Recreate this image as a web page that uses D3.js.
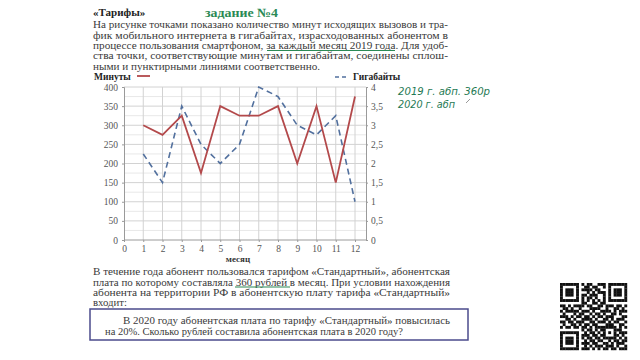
<!DOCTYPE html>
<html><head><meta charset="utf-8">
<script src="https://cdn.jsdelivr.net/npm/d3@7"></script>
<style>
html,body{margin:0;padding:0;background:#fff;}
svg{display:block;}
</style></head>
<body>
<svg id="c" width="640" height="360"></svg>
<script>
// ---- data ----
const months = [1,2,3,4,5,6,7,8,9,10,11,12];
const minutes = [300,275,325,175,350,325,325,350,200,350,150,375];
const gigabytes = [2.25,1.5,3.5,2.5,2,2.5,4,3.75,3,2.75,3.25,1];
const xTicks = [0,1,2,3,4,5,6,7,8,9,10,11,12];
const leftTicks = [0,50,100,150,200,250,300,350,400];
const rightTicks = [0,0.5,1,1.5,2,2.5,3,3.5,4];

const svg = d3.select("#c");
const serif = "'Liberation Serif','DejaVu Serif',serif";
const txtCol = "#3a3a3a";
const green = "#2b8a55";

// ---- text blocks ----
svg.append("text").attr("x",93).attr("y",16).attr("font-family",serif).attr("font-weight","bold")
  .attr("font-size",11).attr("fill","#222").text("«Тарифы»");
svg.append("text").attr("x",205).attr("y",16.5).attr("font-family",serif).attr("font-weight","bold")
  .attr("font-size",12.5).attr("fill",green).attr("textLength",73).attr("lengthAdjust","spacingAndGlyphs").text("задание №4");

function para(lines){
  lines.forEach(l=>{
    const t = svg.append("text").attr("x",l.x).attr("y",l.y)
      .attr("font-family",serif).attr("font-size",10.2).attr("fill",txtCol).text(l.s);
    if(l.w) t.attr("textLength",l.w).attr("lengthAdjust","spacingAndGlyphs");
  });
}
para([
  {s:"На рисунке точками показано количество минут исходящих вызовов и тра-",x:93,y:28,w:355},
  {s:"фик мобильного интернета в гигабайтах, израсходованных абонентом в",x:93,y:38.5,w:355},
  {s:"процессе пользования смартфоном, за каждый месяц 2019 года. Для удоб-",x:93,y:48.5,w:355},
  {s:"ства точки, соответствующие минутам и гигабайтам, соединены сплош-",x:93,y:59,w:355},
  {s:"ными и пунктирными линиями соответственно.",x:93,y:69.5,w:227}
]);
svg.append("line").attr("x1",267).attr("x2",395).attr("y1",50.5).attr("y2",50.5).attr("stroke",green).attr("stroke-width",1.2);

para([
  {s:"В течение года абонент пользовался тарифом «Стандартный», абонентская",x:93,y:274.5,w:357},
  {s:"плата по которому составляла 360 рублей в месяц. При условии нахождения",x:93,y:285.5,w:357},
  {s:"абонента на территории РФ в абонентскую плату тарифа «Стандартный»",x:93,y:296,w:357},
  {s:"входит:",x:93,y:306,w:34}
]);
svg.append("line").attr("x1",235).attr("x2",290).attr("y1",287).attr("y2",287).attr("stroke",green).attr("stroke-width",1.2);

svg.append("rect").attr("x",90).attr("y",309).attr("width",378).attr("height",31)
  .attr("fill","#fff").attr("stroke","#4b4b8c").attr("stroke-width",1.5);
para([
  {s:"В 2020 году абонентская плата по тарифу «Стандартный» повысилась",x:123,y:323.5,w:327},
  {s:"на 20%. Сколько рублей составила абонентская плата в 2020 году?",x:105,y:334.5,w:298}
]);

// handwritten notes
const hand = "'DejaVu Sans','Noto Sans',sans-serif";
svg.append("text").attr("x",398).attr("y",94.5).attr("font-family",hand).attr("font-style","italic")
  .attr("font-size",11).attr("fill","#1f7a55").attr("textLength",92).attr("lengthAdjust","spacingAndGlyphs").text("2019 г. абп. 360р");
svg.append("text").attr("x",398).attr("y",107.5).attr("font-family",hand).attr("font-style","italic")
  .attr("font-size",11).attr("fill","#1f7a55").attr("textLength",57).attr("lengthAdjust","spacingAndGlyphs").text("2020 г. абп");
svg.append("line").attr("x1",466).attr("y1",103).attr("x2",470).attr("y2",99).attr("stroke","#999").attr("stroke-width",1);

// ---- chart ----
const x = d3.scaleLinear().domain([0,12]).range([124,355]);
const y = d3.scaleLinear().domain([0,400]).range([240,87]);
const y2 = d3.scaleLinear().domain([0,4]).range([240,87]);
const rightX = 366;

const g = svg.append("g");
d3.range(25,400,50).forEach(v=>{
  g.append("line").attr("x1",x(0)).attr("x2",rightX).attr("y1",y(v)).attr("y2",y(v))
   .attr("stroke","#e8e8e8").attr("stroke-width",1);
});
g.selectAll(".hg").data(leftTicks.slice(1)).join("line")
  .attr("x1",x(0)).attr("x2",rightX).attr("y1",d=>y(d)).attr("y2",d=>y(d))
  .attr("stroke","#d2d2d2").attr("stroke-width",1);
g.selectAll(".vg").data(xTicks.slice(1)).join("line")
  .attr("x1",d=>x(d)).attr("x2",d=>x(d)).attr("y1",y(400)).attr("y2",y(0))
  .attr("stroke","#d2d2d2").attr("stroke-width",1);

const axCol="#9a9a9a";
const yAxis = svg.append("g").attr("transform",`translate(${x(0)},0)`)
  .call(d3.axisLeft(y).tickValues(leftTicks).tickSize(2).tickPadding(4));
const y2Axis = svg.append("g").attr("transform",`translate(${rightX},0)`)
  .call(d3.axisRight(y2).tickValues(rightTicks).tickSize(2).tickPadding(3)
    .tickFormat(d=>String(d).replace(".",",")));
const xAxis = svg.append("g").attr("transform",`translate(0,${y(0)})`)
  .call(d3.axisBottom(x).tickValues(xTicks).tickSize(2).tickPadding(3));
xAxis.select(".domain").attr("d",`M${x(0)},0H${rightX}`);
[yAxis,y2Axis,xAxis].forEach(a=>{
  a.select(".domain").attr("stroke",axCol);
  a.selectAll(".tick line").attr("stroke",axCol);
  a.selectAll("text").attr("font-family",serif).attr("font-size",9.5).attr("fill","#555");
});

const lineMin = d3.line().x((d,i)=>x(months[i])).y(d=>y(d));
const lineGb = d3.line().x((d,i)=>x(months[i])).y(d=>y2(d));
svg.append("path").attr("d",lineGb(gigabytes)).attr("fill","none").attr("stroke","#52709e")
  .attr("stroke-width",1.6).attr("stroke-dasharray","6,4");
svg.append("path").attr("d",lineMin(minutes)).attr("fill","none").attr("stroke","#b3494b")
  .attr("stroke-width",1.8);

svg.append("text").attr("x",238).attr("y",262).attr("text-anchor","middle").attr("font-family",serif)
  .attr("font-weight","bold").attr("font-size",9).attr("fill","#333").text("месяц");

// legend
svg.append("text").attr("x",94).attr("y",79.5).attr("font-family",serif).attr("font-weight","bold")
  .attr("font-size",9.5).attr("fill","#222").text("Минуты");
svg.append("line").attr("x1",137).attr("x2",150).attr("y1",76).attr("y2",76).attr("stroke","#b3494b").attr("stroke-width",1.8);
svg.append("line").attr("x1",335).attr("x2",348).attr("y1",77).attr("y2",77).attr("stroke","#52709e")
  .attr("stroke-width",1.6).attr("stroke-dasharray","4,3");
svg.append("text").attr("x",353).attr("y",80).attr("font-family",serif).attr("font-weight","bold")
  .attr("font-size",9.5).attr("fill","#222").text("Гигабайты");

// ---- QR-like decoration ----
const qrRows = [
"1111111010110011101111111",
"1000001001101100101000001",
"1011101011110110001011101",
"1011101000101011101011101",
"1011101011011100101011101",
"1000001010110100101000001",
"1111111010101010101111111",
"0000000011001101100000000",
"1101011110110011011101101",
"0110100100011110010011010",
"1011111011101001111010111",
"0100010110010110100110100",
"1110101101101011011100011",
"0011010011110100110101110",
"1101101110011011101011001",
"0100110101101100011100110",
"1011011011010111111110101",
"0000000010110101100011100",
"1111111001011010101010111",
"1000001011101101100011010",
"1011101010110110111110101",
"1011101001011011001011011",
"1011101011101100110101110",
"1000001001010111011101001",
"1111111011101010110110111"
];
const cell = 2.68, qx = 560, qy = 283;
const qrCells = [];
qrRows.forEach((r,i)=>r.split("").forEach((c,j)=>{ if(c==="1") qrCells.push([i,j]); }));
svg.append("g").selectAll("rect").data(qrCells).join("rect")
  .attr("x",d=>qx+d[1]*cell).attr("y",d=>qy+d[0]*cell)
  .attr("width",cell+0.2).attr("height",cell+0.2).attr("fill","#111");
</script>
</body></html>
